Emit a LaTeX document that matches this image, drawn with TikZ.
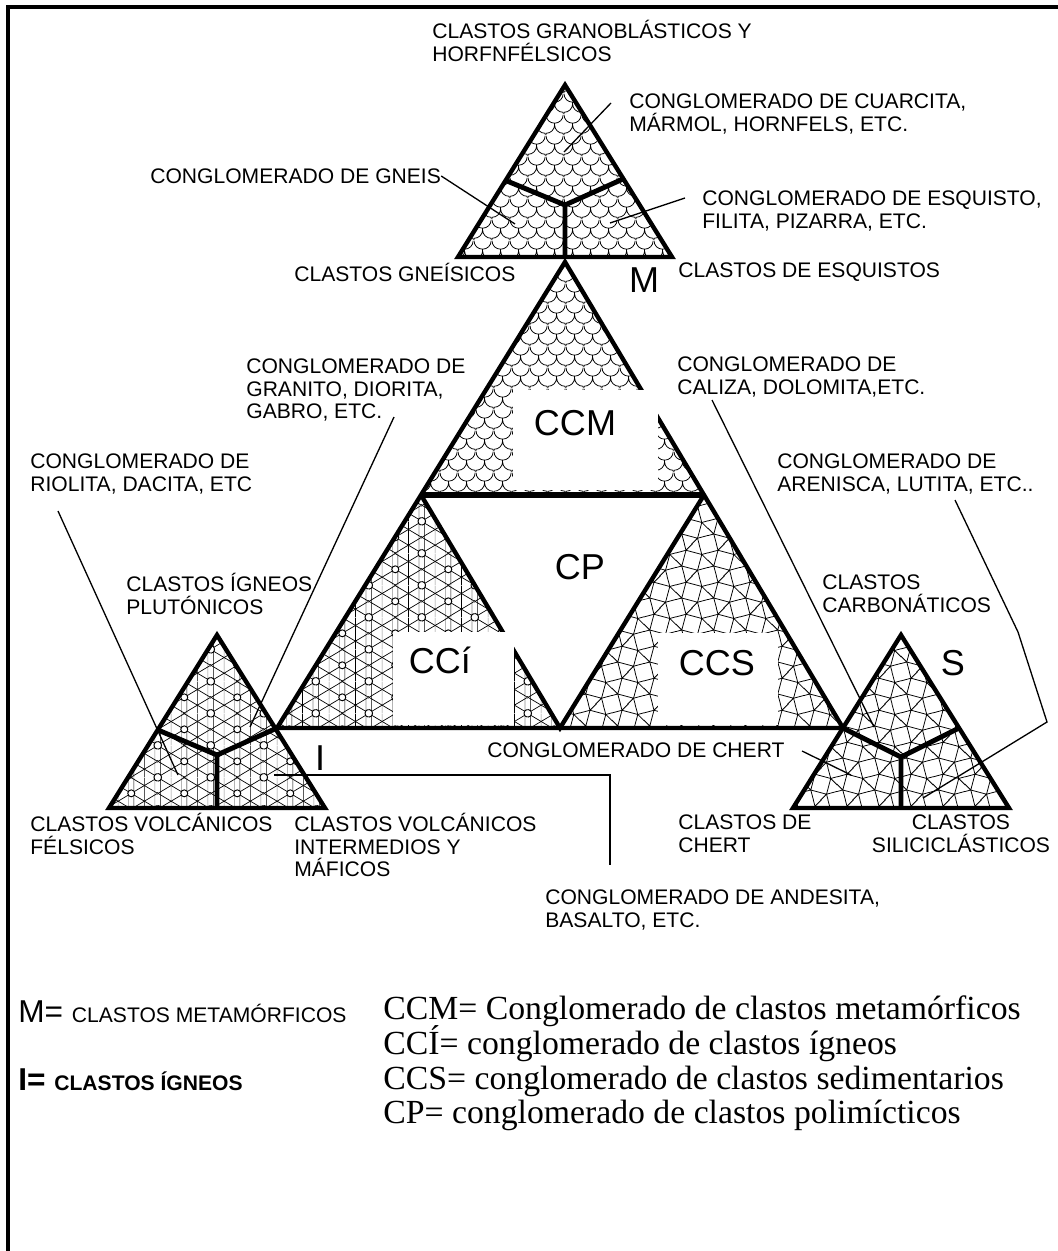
\documentclass[tikz,border=0pt]{standalone}
\usepackage{fontspec}
\setmainfont{Liberation Serif}
\newfontfamily\arial{Liberation Sans}
\usetikzlibrary{patterns,calc}

% fish scales (metamorphic clasts)
\pgfdeclarepatternformonly{escamas}{\pgfpointorigin}{\pgfpoint{10pt}{12pt}}{\pgfpoint{10pt}{12pt}}{%
  \pgfsetlinewidth{0.45pt}%
  \pgfpathmoveto{\pgfpoint{0pt}{12pt}}%
  \pgfpatharc{180}{360}{5pt}%
  \pgfpathmoveto{\pgfpoint{0pt}{1pt}}%
  \pgfpatharc{270}{360}{5pt}%
  \pgfpatharc{180}{270}{5pt}%
  \pgfpathmoveto{\pgfpoint{5pt}{7pt}}\pgfpathlineto{\pgfpoint{5pt}{6pt}}%
  \pgfpathmoveto{\pgfpoint{0pt}{1pt}}\pgfpathlineto{\pgfpoint{0pt}{0pt}}%
  \pgfpathmoveto{\pgfpoint{10pt}{1pt}}\pgfpathlineto{\pgfpoint{10pt}{0pt}}%
  \pgfusepath{stroke}%
}

% squares and triangles (sedimentary clasts)
\pgfdeclarepatternformonly{mosaico}{\pgfpointorigin}{\pgfpoint{18.353pt}{18.353pt}}{\pgfpoint{18.353pt}{18.353pt}}{%
  \pgfsetlinewidth{0.45pt}%
  \foreach \i in {-1,0,1}{\foreach \j in {-1,0,1}{%
    \pgfscope
    \pgftransformshift{\pgfpoint{\i*18.353pt}{\j*18.353pt}}%
    \pgfpathmoveto{\pgfpoint{3.359pt}{5.818pt}}%
    \pgfpathlineto{\pgfpoint{-5.818pt}{3.359pt}}%
    \pgfpathlineto{\pgfpoint{-3.359pt}{-5.818pt}}%
    \pgfpathlineto{\pgfpoint{5.818pt}{-3.359pt}}%
    \pgfpathclose
    \pgfpathmoveto{\pgfpoint{14.994pt}{12.535pt}}%
    \pgfpathlineto{\pgfpoint{5.818pt}{14.994pt}}%
    \pgfpathlineto{\pgfpoint{3.359pt}{5.818pt}}%
    \pgfpathlineto{\pgfpoint{12.535pt}{3.359pt}}%
    \pgfpathclose
    \pgfpathmoveto{\pgfpoint{3.359pt}{5.818pt}}\pgfpathlineto{\pgfpoint{-3.359pt}{12.535pt}}%
    \pgfpathmoveto{\pgfpoint{5.818pt}{-3.359pt}}\pgfpathlineto{\pgfpoint{12.535pt}{3.359pt}}%
    \pgfusepath{stroke}%
    \endpgfscope
  }}%
}

% triangular mesh with rings (igneous clasts)
\pgfdeclarepatterninherentlycolored{igneo}{\pgfpointorigin}{\pgfpoint{30pt}{18pt}}{\pgfpoint{30pt}{18pt}}{%
  \pgfsetlinewidth{0.4pt}%
  \pgfsetstrokecolor{black!45}%
  \foreach \x in {7.5,13.5,28.5}{%
    \pgfpathmoveto{\pgfpoint{\x pt}{0pt}}\pgfpathlineto{\pgfpoint{\x pt}{18pt}}\pgfusepath{stroke}}%
  \pgfsetstrokecolor{black}%
  \foreach \x in {1.5,16.5,22.5}{%
    \pgfpathmoveto{\pgfpoint{\x pt}{0pt}}\pgfpathlineto{\pgfpoint{\x pt}{18pt}}\pgfusepath{stroke}}%
  \foreach \k in {-2,...,2}{%
    \pgfpathmoveto{\pgfpoint{0pt}{\k*9pt}}\pgfpathlineto{\pgfpoint{30pt}{\k*9pt+18pt}}\pgfusepath{stroke}}%
  \foreach \k in {0,...,4}{%
    \pgfpathmoveto{\pgfpoint{0pt}{\k*9pt}}\pgfpathlineto{\pgfpoint{30pt}{\k*9pt-18pt}}\pgfusepath{stroke}}%
  \pgfsetfillcolor{white}%
  \pgfsetlinewidth{0.55pt}%
  \foreach \x/\y in {0/0,30/0,0/18,30/18,15/9}{%
    \pgfpathcircle{\pgfpoint{\x pt}{\y pt}}{2pt}\pgfusepath{fill,stroke}}%
}

\newcommand\lblfont{\arial\fontsize{12}{13}\selectfont}
\newcommand\bigfont{\arial\fontsize{20.5}{24}\selectfont}

\begin{document}
\begin{tikzpicture}[x=0.02cm, y=-0.02cm,
  lbl/.style={font=\lblfont, align=left, anchor=west, inner sep=0pt},
  big/.style={font=\bigfont, inner sep=0pt},
  borde/.style={line width=2.5pt},
  ybrazo/.style={line width=2.8pt},
  guia/.style={line width=0.75pt},
  ley/.style={font=\fontsize{19.2}{22}\selectfont, anchor=base west, inner sep=0pt}
]
  \useasboundingbox (0,0) rectangle (1058,1251);
  \draw[line width=1.8pt] (8,1280) -- (8,7) -- (1090,7);

  % vertices
  \coordinate (m-top) at (565,85);   \coordinate (m-left) at (458,257);  \coordinate (m-right) at (672,257);
  \coordinate (m-mid) at (565,205);  \coordinate (m-a) at (507,181);     \coordinate (m-b) at (623,179);
  \coordinate (m-c) at (565,257);
  \coordinate (b-top) at (565,262);  \coordinate (b-left) at (277,728);  \coordinate (b-right) at (843,728);
  \coordinate (b-ml) at ($(b-top)!0.5!(b-left)$);
  \coordinate (b-mr) at ($(b-top)!0.5!(b-right)$);
  \coordinate (b-mb) at ($(b-left)!0.5!(b-right)$);
  \coordinate (i-top) at (217,635);  \coordinate (i-left) at (109,808);  \coordinate (i-right) at (325,808);
  \coordinate (i-mid) at (217,755);  \coordinate (i-a) at (158,730);     \coordinate (i-c) at (217,808);
  \coordinate (s-top) at (901,635);  \coordinate (s-left) at (793,808);  \coordinate (s-right) at (1009,808);
  \coordinate (s-mid) at (901,757);  \coordinate (s-b) at (959,728);     \coordinate (s-c) at (901,808);

  % fills
  \fill[pattern=escamas] (m-top) -- (m-left) -- (m-right) -- cycle;
  \fill[pattern=escamas] (b-top) -- (b-ml) -- (b-mr) -- cycle;
  \fill[pattern=igneo] (b-ml) -- (b-left) -- (b-mb) -- cycle;
  \fill[pattern=igneo] (i-top) -- (i-left) -- (i-right) -- cycle;
  \fill[pattern=mosaico] (b-mr) -- (b-mb) -- (b-right) -- cycle;
  \fill[pattern=mosaico] (s-top) -- (s-left) -- (s-right) -- cycle;

  % outlines
  \foreach \t in {m,i,s}{\draw[borde] (\t-top) -- (\t-left) -- (\t-right) -- cycle;}
  \draw[borde] (b-top) -- (b-left) -- (b-right) -- cycle;
  \draw[borde] (b-ml) -- (b-mb) -- (b-mr);
  \draw[line width=3.2pt] (b-ml) -- (b-mr);
  \draw[ybrazo] (m-a) -- (m-mid) -- (m-b) (m-mid) -- (m-c);
  \draw[ybrazo] (i-a) -- (i-mid) -- (b-left) (i-mid) -- (i-c);
  \draw[ybrazo] (b-right) -- (s-mid) -- (s-b) (s-mid) -- (s-c);

  % blank boxes
  \fill[white] (513,390) rectangle (658,490);
  \fill[white] (393,632) rectangle (514,725);
  \fill[white] (658,633) rectangle (778,725);

  \node[big] (ccm) at (575,423) {CCM};
  \node[big] (cp) at (580,567) {CP};
  \node[big] (cci) at (440,660) {CCí};
  \node[big] (ccs) at (717,663) {CCS};
  \node[big] (mm) at (644,280) {M};
  \node[big] (ss) at (953,663) {S};
  \node[big] (ii) at (320,758) {I};

  % labels
  \node[lbl] (granob) at (432,41) {CLASTOS GRANOBLÁSTICOS Y\\HORFNFÉLSICOS};
  \node[lbl] (cuarcita) at (629,114) {CONGLOMERADO DE CUARCITA,\\MÁRMOL, HORNFELS, ETC.};
  \node[lbl] (gneis) at (150,176) {CONGLOMERADO DE GNEIS};
  \node[lbl] (esquisto) at (702,211) {CONGLOMERADO DE ESQUISTO,\\FILITA, PIZARRA, ETC.};
  \node[lbl] (gneisicos) at (294,272) {CLASTOS GNEÍSICOS};
  \node[lbl] (esquistos) at (678,272) {CLASTOS DE ESQUISTOS};
  \node[lbl] (granito) at (246,390) {CONGLOMERADO DE\\GRANITO, DIORITA,\\GABRO, ETC.};
  \node[lbl] (caliza) at (677,377) {CONGLOMERADO DE\\CALIZA, DOLOMITA,ETC.};
  \node[lbl] (riolita) at (30,474) {CONGLOMERADO DE\\RIOLITA, DACITA, ETC};
  \node[lbl] (arenisca) at (777,474) {CONGLOMERADO DE\\ARENISCA, LUTITA, ETC..};
  \node[lbl] (plutonicos) at (126,594) {CLASTOS ÍGNEOS\\PLUTÓNICOS};
  \node[lbl] (carbonaticos) at (822,594) {CLASTOS\\CARBONÁTICOS};
  \node[lbl] (chert) at (487,750) {CONGLOMERADO DE CHERT};
  \node[lbl] (felsicos) at (30,834) {CLASTOS VOLCÁNICOS\\FÉLSICOS};
  \node[lbl] (maficos) at (294,845) {CLASTOS VOLCÁNICOS\\INTERMEDIOS Y\\MÁFICOS};
  \node[lbl] (clchert) at (678,834) {CLASTOS DE\\CHERT};
  \node[lbl, align=center, anchor=center] (silici) at (961,834) {CLASTOS\\SILICICLÁSTICOS};
  \node[lbl] (andesita) at (545,910) {CONGLOMERADO DE ANDESITA,\\BASALTO, ETC.};

  % leader ends
  \coordinate (g-gneis) at (515,224);
  \coordinate (g-cuar1) at (611,103);  \coordinate (g-cuar2) at (564,152);
  \coordinate (g-esq1) at (685,198);   \coordinate (g-esq2) at (610,223);
  \coordinate (g-rio1) at (58,511);    \coordinate (g-rio2) at (178,775);
  \coordinate (g-gra1) at (394,417);   \coordinate (g-gra2) at (250,727);
  \coordinate (g-cal1) at (712,400);   \coordinate (g-cal2) at (874,727);
  \coordinate (g-are1) at (955,500);   \coordinate (g-are2) at (1018,632);
  \coordinate (g-are3) at (1047,722);  \coordinate (g-are4) at (923,798);
  \coordinate (g-che1) at (802,751);   \coordinate (g-che2) at (851,775);
  \coordinate (g-and1) at (274,775);   \coordinate (g-and2) at (610,775);
  \coordinate (g-and3) at (610,865);

  \draw[guia] (gneis.east) -- (g-gneis);
  \draw[guia] (g-cuar1) -- (g-cuar2);
  \draw[guia] (g-esq1) -- (g-esq2);
  \draw[guia] (g-rio1) -- (g-rio2);
  \draw[guia] (g-gra1) -- (g-gra2);
  \draw[guia] (g-cal1) -- (g-cal2);
  \draw[guia] (g-are1) -- (g-are2) -- (g-are3) -- (g-are4);
  \draw[guia] (g-che1) -- (g-che2);
  \draw[guia] (g-and1) -- (g-and2) -- (g-and3);

  % legend
  \node[anchor=base west, inner sep=0pt] (leyM) at (18,1022)
    {\arial\fontsize{18}{20}\selectfont M= \fontsize{12}{13}\selectfont CLASTOS METAMÓRFICOS};
  \node[anchor=base west, inner sep=0pt] (leyI) at (18,1090)
    {\arial\bfseries\fontsize{18}{20}\selectfont I= \fontsize{12}{13}\selectfont CLASTOS ÍGNEOS};
  \node[ley] (leyccm) at (383,1019) {CCM= Conglomerado de clastos metamórficos};
  \node[ley] (leycci) at (383,1054) {CCÍ= conglomerado de clastos ígneos};
  \node[ley] (leyccs) at (383,1089) {CCS= conglomerado de clastos sedimentarios};
  \node[ley] (leycp) at (383,1123) {CP= conglomerado de clastos polimícticos};
\end{tikzpicture}
\end{document}
